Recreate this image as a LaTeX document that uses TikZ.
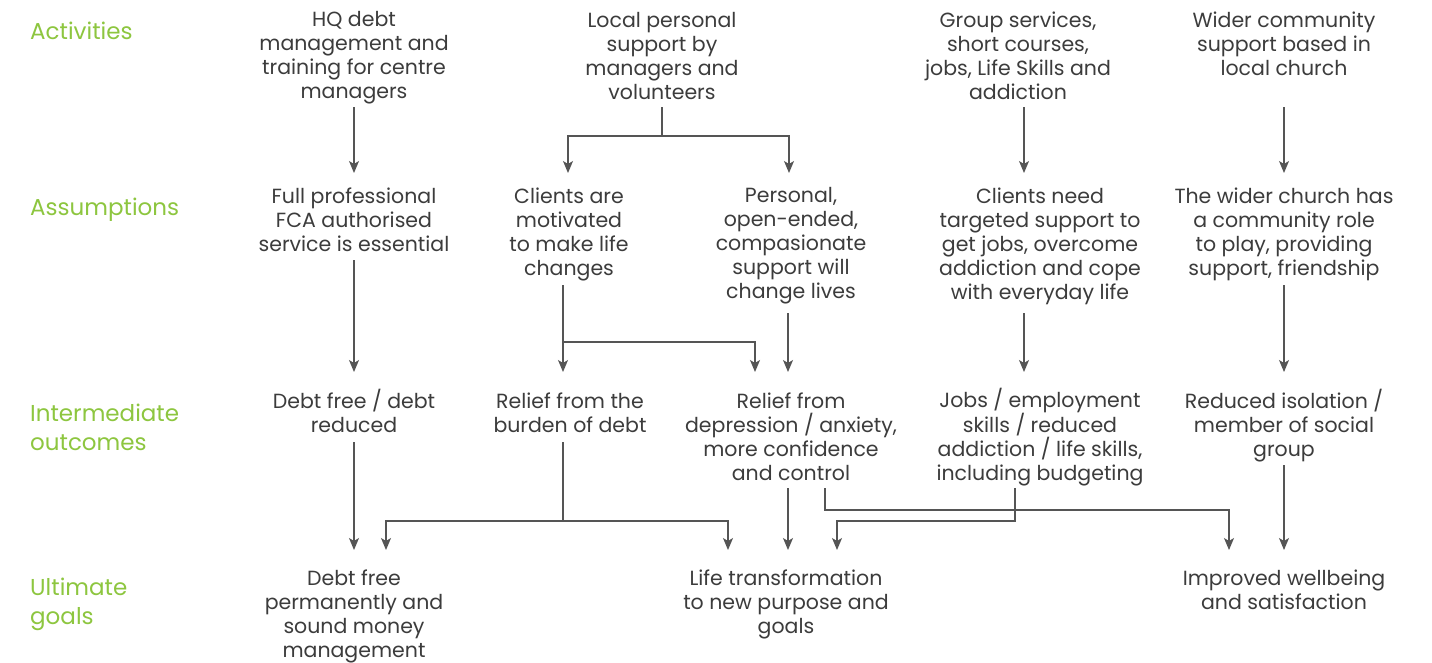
\documentclass[tikz,border=0pt]{standalone}
\usepackage{fontspec}
\setmainfont{Poppins}
\usetikzlibrary{arrows.meta,calc}
\definecolor{txt}{HTML}{3C3C3C}
\definecolor{ln}{HTML}{555555}
\definecolor{grn}{HTML}{8DC63F}
\begin{document}
\begin{tikzpicture}[x=1pt,y=-1pt,
  box/.style={align=center,inner sep=0pt,text=txt,font=\fontsize{20.5}{24}\selectfont},
  lab/.style={anchor=west,align=left,inner sep=0pt,text=grn,font=\fontsize{23}{29}\selectfont},
  con/.style={draw=ln,line width=1.2pt},
  arr/.style={con,-{Stealth[length=12pt,width=10pt,inset=3pt]}}]
\useasboundingbox[fill=white] (0,0) rectangle (1432,662);
% row labels
\node[lab] (lA) at (30,31) {Activities};
\node[lab] (lB) at (30,210) {Assumptions};
\node[lab] (lC) at (30,427) {Intermediate\\outcomes};
\node[lab] (lD) at (30,604) {Ultimate\\goals};
% activities
\node[box] (hq) at (354,58) {HQ debt\\management and\\training for centre\\managers};
\node[box] (lp) at (662,56) {Local personal\\support by\\managers and\\volunteers};
\node[box] (gs) at (1018,56) {Group services,\\short courses,\\jobs, Life Skills and\\addiction};
\node[box] (wc) at (1284,44) {Wider community\\support based in\\local church};
% assumptions
\node[box] (fp) at (354,220) {Full professional\\FCA authorised\\service is essential};
\node[box] (cm) at (569,234) {Clients are\\motivated\\to make life\\changes};
\node[box] (pe) at (791,246) {Personal,\\open-ended,\\compasionate\\support will\\change lives};
\node[box] (cn) at (1040,246) {Clients need\\targeted support to\\get jobs, overcome\\addiction and cope\\with everyday life};
\node[box] (wr) at (1284,234) {The wider church has\\a community role\\to play, providing\\support, friendship};
% intermediate outcomes
\node[box] (dr) at (354,411) {Debt free / debt\\reduced};
\node[box] (rb) at (570,413) {Relief from the\\burden of debt};
\node[box] (rd) at (791,437) {Relief from\\depression / anxiety,\\more confidence\\and control};
\node[box] (jb) at (1040,437) {Jobs / employment\\skills / reduced\\addiction / life skills,\\including budgeting};
\node[box] (ri) at (1284,426) {Reduced isolation /\\member of social\\group};
% ultimate goals
\node[box] (df) at (354,616) {Debt free\\permanently and\\sound money\\management};
\node[box] (lt) at (786,604) {Life transformation\\to new purpose and\\goals};
\node[box] (iw) at (1284,590) {Improved wellbeing\\and satisfaction};
% connector points
\coordinate (lpJ) at (662,136);
\coordinate (gsS) at (1024,107);
\coordinate (cnN) at (1024,173);
\coordinate (cmS) at (563,285);
\coordinate (cmJ) at (563,342);
\coordinate (rdN2) at (755,372);
\coordinate (peS) at (788,313);
\coordinate (rdN) at (788,372);
\coordinate (cnS) at (1024,313);
\coordinate (jbN) at (1024,372);
\coordinate (rbS) at (563,442);
\coordinate (rbJ) at (563,521);
\coordinate (dfN2) at (386,550);
\coordinate (ltN1) at (728,550);
\coordinate (rdS) at (788,488);
\coordinate (ltN2) at (788,550);
\coordinate (rdS2) at (825,488);
\coordinate (rdJ) at (825,510);
\coordinate (iwN1) at (1229,550);
\coordinate (jbS) at (1015,488);
\coordinate (jbJ) at (1015,521);
\coordinate (ltN3) at (837,550);
% activities -> assumptions
\draw[arr] (354,107) -- (354,173);
\draw[con] (lp.south |- 0,107) -- (lpJ);
\draw[arr] (lpJ) -| (568,173);
\draw[arr] (lpJ) -| (789,173);
\draw[arr] (gsS) -- (cnN);
\draw[arr] (1284,107) -- (1284,173);
% assumptions -> intermediate
\draw[arr] (354,260) -- (354,372);
\draw[arr] (cmS) -- (563,372);
\draw[arr] (cmJ) -| (rdN2);
\draw[arr] (peS) -- (rdN);
\draw[arr] (cnS) -- (jbN);
\draw[arr] (1284,285) -- (1284,372);
% intermediate -> ultimate
\draw[arr] (354,442) -- (354,550);
\draw[con] (rbS) -- (rbJ);
\draw[arr] (rbJ) -| (dfN2);
\draw[arr] (rbJ) -| (ltN1);
\draw[arr] (rdS) -- (ltN2);
\draw[arr] (rdS2) -- (rdJ) -| (iwN1);
\draw[arr] (jbS) -- (jbJ) -| (ltN3);
\draw[arr] (1284,465) -- (1284,550);
\end{tikzpicture}
\end{document}
